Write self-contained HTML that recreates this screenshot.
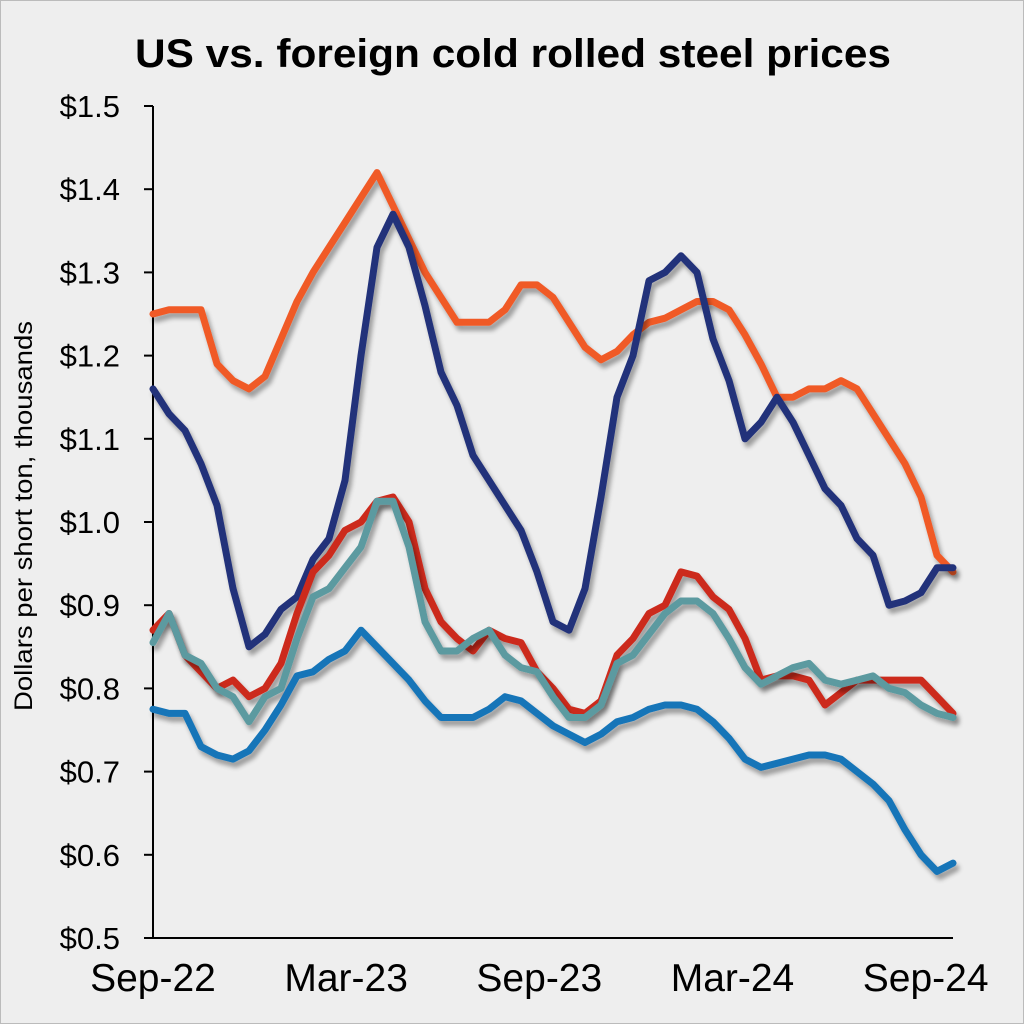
<!DOCTYPE html>
<html><head><meta charset="utf-8"><style>
html,body{margin:0;padding:0;background:#fff}
#wrap{width:1022px;height:1022px;border:1px solid #bbb;background:#eeeeee;position:relative}
svg{position:absolute;left:0;top:0}
text{font-family:"Liberation Sans",sans-serif}
</style></head><body>
<div id="wrap">
<svg id="chart" width="1024" height="1024">
<defs><filter id="sh" x="-5%" y="-5%" width="110%" height="115%"><feGaussianBlur in="SourceAlpha" stdDeviation="2.5"/><feOffset dx="3" dy="5"/><feComponentTransfer><feFuncA type="linear" slope="0.35"/></feComponentTransfer><feMerge><feMergeNode/><feMergeNode in="SourceGraphic"/></feMerge></filter></defs>
<text x="512" y="66" text-anchor="middle" font-size="40" font-weight="bold" textLength="756" lengthAdjust="spacingAndGlyphs">US vs. foreign cold rolled steel prices</text>
<text transform="translate(31,515) rotate(-90)" text-anchor="middle" font-size="25" textLength="390" lengthAdjust="spacingAndGlyphs">Dollars per short ton, thousands</text>
<g id="axes"></g>
<g id="lines"></g>
</svg>
</div>
<script>
const yTicks = [0.5,0.6,0.7,0.8,0.9,1.0,1.1,1.2,1.3,1.4,1.5];
const xLabels = ["Sep-22","Mar-23","Sep-23","Mar-24","Sep-24"];
const xLabelMonths = [0,6,12,18,24];
const totalMonths = 24.85;
const orange = [1.25,1.255,1.255,1.255,1.19,1.17,1.16,1.175,1.22,1.265,1.30,1.33,1.36,1.39,1.42,1.38,1.34,1.30,1.27,1.24,1.24,1.24,1.255,1.285,1.285,1.27,1.24,1.21,1.195,1.205,1.225,1.24,1.245,1.255,1.265,1.265,1.255,1.225,1.19,1.15,1.15,1.16,1.16,1.17,1.16,1.13,1.10,1.07,1.03,0.96,0.94];
const navy = [1.16,1.13,1.11,1.07,1.02,0.92,0.85,0.865,0.895,0.91,0.955,0.98,1.05,1.20,1.33,1.37,1.33,1.26,1.18,1.14,1.08,1.05,1.02,0.99,0.94,0.88,0.87,0.92,1.03,1.15,1.20,1.29,1.30,1.32,1.30,1.22,1.17,1.10,1.12,1.15,1.12,1.08,1.04,1.02,0.98,0.96,0.90,0.905,0.915,0.945,0.945];
const red = [0.87,0.89,0.84,0.82,0.80,0.81,0.79,0.80,0.83,0.89,0.94,0.96,0.99,1.00,1.025,1.03,1.00,0.92,0.88,0.86,0.845,0.87,0.86,0.855,0.82,0.80,0.775,0.77,0.785,0.84,0.86,0.89,0.90,0.94,0.935,0.91,0.895,0.86,0.81,0.815,0.815,0.81,0.78,0.795,0.81,0.81,0.81,0.81,0.81,0.79,0.77];
const teal = [0.855,0.89,0.84,0.83,0.80,0.79,0.76,0.79,0.80,0.86,0.91,0.92,0.945,0.97,1.025,1.025,0.97,0.88,0.845,0.845,0.86,0.87,0.84,0.825,0.82,0.79,0.765,0.765,0.78,0.83,0.84,0.865,0.89,0.905,0.905,0.89,0.86,0.825,0.805,0.815,0.825,0.83,0.81,0.805,0.81,0.815,0.80,0.795,0.78,0.77,0.765];
const blue = [0.775,0.77,0.77,0.73,0.72,0.715,0.725,0.75,0.78,0.815,0.82,0.835,0.845,0.87,0.85,0.83,0.81,0.785,0.765,0.765,0.765,0.775,0.79,0.785,0.77,0.755,0.745,0.735,0.745,0.76,0.765,0.775,0.78,0.78,0.775,0.76,0.74,0.715,0.705,0.71,0.715,0.72,0.72,0.715,0.70,0.685,0.665,0.63,0.60,0.58,0.59];
const NS="http://www.w3.org/2000/svg";
const X0=152,X1=952,Y0=937,Y1=105,N=orange.length;
function xs(i){return X0+(X1-X0)*i/(N-1);}
function xm(m){return X0+(X1-X0)*m/totalMonths;}
function ys(v){return Y0-(v-0.5)/(1.0)*(Y0-Y1);}
const axes=document.getElementById('axes');
function mk(t,a,p){const e=document.createElementNS(NS,t);for(const k in a)e.setAttribute(k,a[k]);p.appendChild(e);return e;}
const ya=mk('line',{x1:X0,y1:Y1,x2:X0,y2:Y0,stroke:'#000','stroke-width':2},axes);


const xa=mk('line',{x1:X0,y1:Y0,x2:X1,y2:Y0,stroke:'#000','stroke-width':2},axes);


yTicks.forEach(v=>{
  const y=ys(v);
  const tk=mk('line',{x1:X0-9,y1:y,x2:X0,y2:y,stroke:'#000','stroke-width':2},axes);
  
  
  const t=mk('text',{x:119,y:y+11,'text-anchor':'end','font-size':31},axes);
  t.textContent='$'+v.toFixed(1);
  
  
});
xLabels.forEach((l,k)=>{
  const t=mk('text',{x:xm(xLabelMonths[k]),y:990,'text-anchor':'middle','font-size':39},axes);
  t.textContent=l;
  
  
});
const series=[[orange,'#f05a28','orange-series'],[navy,'#23317a','navy-series'],[red,'#cc2a1e','red-series'],[teal,'#5b9aa0','teal-series'],[blue,'#1574b8','blue-series']];
const lg=document.getElementById('lines');
series.forEach(s=>{
  const d=s[0].map((v,i)=>(i?'L':'M')+xs(i).toFixed(1)+','+ys(v).toFixed(1)).join('');
  const p=mk('path',{d:d,fill:'none',stroke:s[1],'stroke-width':7,'stroke-linejoin':'round','stroke-linecap':'round',filter:'url(#sh)'},lg);
  
  
});
</script>
</body></html>
